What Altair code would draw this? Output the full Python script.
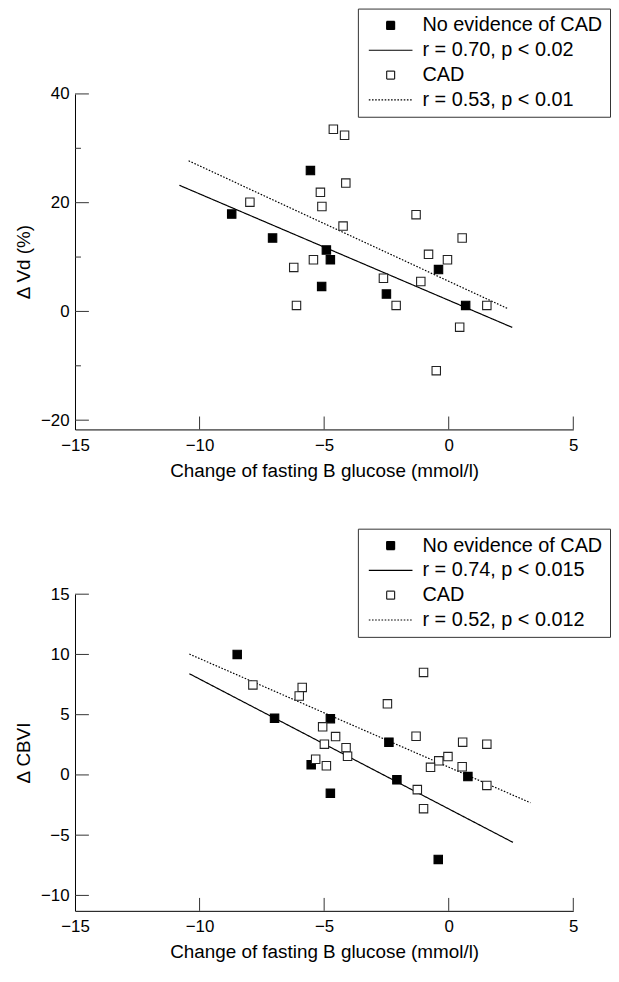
import altair as alt
import pandas as pd

FONT = "Liberation Sans"
LINE_SHAPE = "M-5.5,0H5.5"

# ---------------- data: top panel (Delta Vd %) ----------------
vd_nocad_x = [-8.71, -5.55, -7.07, -4.91, -4.75, -5.10, -2.50, -0.41, 0.68]
vd_nocad_y = [17.9, 25.9, 13.5, 11.3, 9.5, 4.6, 3.2, 7.7, 1.1]
vd_cad_x = [-4.63, -4.18, -4.13, -7.98, -5.15, -5.09, -4.24, -1.31, 0.54, -0.81,
            -0.05, -5.43, -6.22, -2.62, -1.12, -6.11, -2.11, 1.53, 0.44, -0.50]
vd_cad_y = [33.5, 32.4, 23.6, 20.1, 21.9, 19.3, 15.7, 17.8, 13.5, 10.5,
            9.5, 9.5, 8.1, 6.1, 5.5, 1.1, 1.1, 1.1, -2.9, -10.9]
vd_fit_nocad_x = [-10.81, 2.55]
vd_fit_nocad_y = [23.2, -2.94]
vd_fit_cad_x = [-10.44, 2.39]
vd_fit_cad_y = [27.7, 0.48]
vd_keys = ["No evidence of CAD", "r = 0.70, p < 0.02", "CAD", "r = 0.53, p < 0.01"]
vd_major = [-20, 0, 20, 40]
vd_minor = [-10, 10, 30]

# ---------------- data: bottom panel (Delta CBVI) ----------------
cb_nocad_x = [-8.49, -6.99, -4.75, -5.52, -4.75, -2.40, -2.08, 0.77, -0.42]
cb_nocad_y = [10.0, 4.7, 4.67, 0.84, -1.52, 2.72, -0.41, -0.14, -7.01]
cb_cad_x = [-7.86, -5.88, -6.00, -2.46, -1.01, -5.06, -4.54, -4.99, -4.12, -4.06, -5.34,
            -4.91, -1.31, 0.56, 1.53, -0.03, -0.40, -0.73, 0.54, 1.53, -1.26, -1.01]
cb_cad_y = [7.47, 7.26, 6.55, 5.90, 8.51, 3.99, 3.18, 2.55, 2.26, 1.55, 1.30,
            0.76, 3.21, 2.72, 2.55, 1.52, 1.17, 0.63, 0.68, -0.87, -1.22, -2.80]
cb_fit_nocad_x = [-10.41, 2.58]
cb_fit_nocad_y = [8.40, -5.60]
cb_fit_cad_x = [-10.41, 3.28]
cb_fit_cad_y = [10.03, -2.31]
cb_keys = ["No evidence of CAD", "r = 0.74, p < 0.015", "CAD", "r = 0.52, p < 0.012"]
cb_major = [-10, -5, 0, 5, 10, 15]
cb_minor = []

x_ticks = [-15, -10, -5, 0, 5]
x_title = "Change of fasting B glucose (mmol/l)"


def panel(nx, ny, cx, cy, f1x, f1y, f2x, f2y, keys, ydomain, ymajor, yminor, ytitle,
          height, legend_y):
    pts = pd.DataFrame({
        "x": nx + cx,
        "y": ny + cy,
        "key": [keys[0]] * len(nx) + [keys[2]] * len(cx),
    })
    lines = pd.DataFrame({
        "x": f1x + f2x,
        "y": f1y + f2y,
        "key": [keys[1]] * len(f1x) + [keys[3]] * len(f2x),
    })
    leg = alt.Legend(
        title=None, orient="none", legendX=285, legendY=legend_y,
        direction="vertical", columns=1,
        labelFont=FONT, labelFontSize=20, labelColor="black", labelLimit=400,
        symbolSize=64, symbolStrokeColor="black", symbolStrokeWidth=1.2,
        symbolOffset=16, labelOffset=22, rowPadding=5, padding=7,
        strokeColor="#333", fillColor="white",
    )
    xsc = alt.Scale(domain=[-15, 5], nice=False, zero=False)
    ysc = alt.Scale(domain=ydomain, nice=False, zero=False)
    xaxis = alt.Axis(
        values=x_ticks, title=x_title, grid=False, ticks=False,
        labelPadding=8, titlePadding=8, labelFlush=False, labelOverlap=False,
    )
    yaxis = alt.Axis(
        values=ymajor, title=ytitle, grid=False, ticks=False,
        labelPadding=6, titlePadding=7.4, labelFlush=False, labelOverlap=False,
    )
    line_layer = alt.Chart(lines).mark_line(color="black", strokeWidth=1.2).encode(
        x=alt.X("x:Q", scale=xsc, axis=xaxis),
        y=alt.Y("y:Q", scale=ysc, axis=yaxis),
        strokeDash=alt.StrokeDash(
            "key:N",
            scale=alt.Scale(domain=keys, range=[[1, 0], [1, 0], [1, 0], [1.6, 1.6]]),
            legend=leg,
        ),
    )
    point_layer = alt.Chart(pts).mark_point(
        shape="square", filled=True, size=72, strokeWidth=1.1, opacity=1
    ).encode(
        x=alt.X("x:Q", scale=xsc, axis=xaxis),
        y=alt.Y("y:Q", scale=ysc, axis=yaxis),
        fill=alt.Fill(
            "key:N",
            scale=alt.Scale(domain=keys, range=["black", "transparent", "white", "transparent"]),
            legend=leg,
        ),
        stroke=alt.Stroke(
            "key:N",
            scale=alt.Scale(domain=keys, range=["black", "black", "#222", "black"]),
            legend=leg,
        ),
        shape=alt.Shape(
            "key:N",
            scale=alt.Scale(domain=keys, range=["square", LINE_SHAPE, "square", LINE_SHAPE]),
            legend=leg,
        ),
    )
    # inward tick marks
    xt = alt.Chart(pd.DataFrame({"v": x_ticks[1:]})).mark_rule(color="#333", strokeWidth=1).encode(
        x=alt.X("v:Q", scale=xsc, axis=xaxis),
        y=alt.value(height), y2=alt.value(height - 13),
    )
    ytmaj = alt.Chart(pd.DataFrame({"v": ymajor})).mark_rule(color="#333", strokeWidth=1).encode(
        y=alt.Y("v:Q", scale=ysc, axis=yaxis),
        x=alt.value(0), x2=alt.value(14),
    )
    layers = [xt, ytmaj]
    if yminor:
        ytmin = alt.Chart(pd.DataFrame({"v": yminor})).mark_rule(color="#333", strokeWidth=1).encode(
            y=alt.Y("v:Q", scale=ysc, axis=yaxis),
            x=alt.value(0), x2=alt.value(6),
        )
        layers.append(ytmin)
    return alt.layer(*layers, line_layer, point_layer).properties(width=502, height=height)


top = panel(vd_nocad_x, vd_nocad_y, vd_cad_x, vd_cad_y,
            vd_fit_nocad_x, vd_fit_nocad_y, vd_fit_cad_x, vd_fit_cad_y,
            vd_keys, [-21.7, 40], vd_major, vd_minor, "Δ Vd (%)", 338, -86)
bottom = panel(cb_nocad_x, cb_nocad_y, cb_cad_x, cb_cad_y,
               cb_fit_nocad_x, cb_fit_nocad_y, cb_fit_cad_x, cb_fit_cad_y,
               cb_keys, [-11.28, 15], cb_major, cb_minor, "Δ CBVI", 319, -66)

chart = alt.vconcat(top, bottom, spacing=48).resolve_scale(
    shape="independent", fill="independent", stroke="independent", strokeDash="independent",
    x="independent", y="independent",
).resolve_legend(
    shape="independent", fill="independent", stroke="independent", strokeDash="independent",
).properties(
    padding={"left": 5.5, "top": -4, "right": 0, "bottom": 0}
).configure_axis(
    domainColor="black", domainWidth=1,
    labelFont=FONT, labelFontSize=17, labelColor="black",
    titleFont=FONT, titleFontSize=19, titleFontWeight="normal", titleColor="black",
).configure_view(stroke=None)

chart.save("out.html", embed_options={"renderer": "svg", "actions": False})
